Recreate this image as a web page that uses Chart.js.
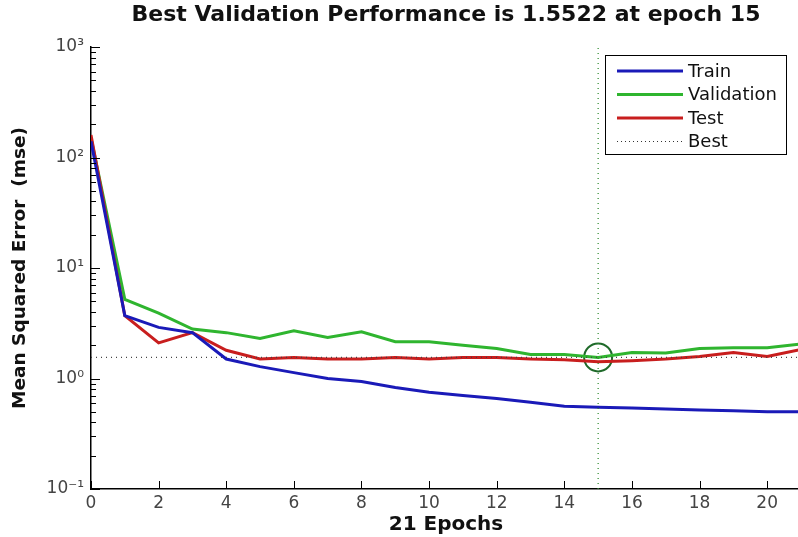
<!DOCTYPE html>
<html>
<head>
<meta charset="utf-8">
<script src="https://cdn.jsdelivr.net/npm/chart.js@4/dist/chart.umd.min.js"></script>
<style>
  html, body { margin: 0; padding: 0; background: #fff; overflow: hidden; }
  #wrap { width: 798px; height: 537px; overflow: hidden; }
</style>
</head>
<body>
<div id="wrap"><canvas id="chart" width="804" height="537"></canvas></div>
<script>
// epochs and mse per split
const epochs = [0, 1, 2, 3, 4, 5, 6, 7, 8, 9, 10, 11, 12, 13, 14, 15, 16, 17, 18, 19, 20, 21];
const train = [140, 3.7, 2.9, 2.6, 1.5, 1.28, 1.13, 1.0, 0.94, 0.83, 0.75, 0.70, 0.66, 0.61, 0.56, 0.55, 0.54, 0.53, 0.52, 0.51, 0.50, 0.50];
const validation = [150, 5.2, 3.9, 2.8, 2.6, 2.3, 2.7, 2.35, 2.65, 2.15, 2.15, 2.0, 1.87, 1.65, 1.65, 1.5522, 1.72, 1.7, 1.87, 1.9, 1.9, 2.05];
const test = [160, 3.7, 2.1, 2.6, 1.8, 1.5, 1.55, 1.5, 1.5, 1.55, 1.5, 1.55, 1.55, 1.5, 1.48, 1.42, 1.45, 1.5, 1.58, 1.72, 1.58, 1.83];
const bestEpoch = 15;
const bestValue = 1.5522;
const yTickLabels = { 1000: "10³", 100: "10²", 10: "10¹", 1: "10⁰", 0.1: "10⁻¹" };
const titleText = "Best Validation Performance is 1.5522 at epoch 15";

const toPoints = arr => arr.map((v, i) => ({ x: epochs[i], y: v }));

const FONT = "'DejaVu Sans', 'Liberation Sans', Arial, sans-serif";

// matlab style title, inward ticks + legend box
const matlabBits = {
    id: "matlabBits",
    afterDraw(chart) {
        const { ctx, chartArea: a, scales: { x, y } } = chart;
        ctx.save();

        // title centred over the axes
        ctx.font = "bold 22px " + FONT;
        ctx.fillStyle = "#111";
        ctx.textAlign = "center";
        ctx.textBaseline = "middle";
        ctx.fillText(titleText, (a.left + a.right) / 2, 15);
        ctx.textAlign = "left";

        ctx.strokeStyle = "#000";
        ctx.lineWidth = 1;
        // y ticks (log: majors and minors)
        for (let p = -1; p <= 3; p++) {
            for (let m = 1; m <= 9; m++) {
                const v = m * Math.pow(10, p);
                if (v > 1000) break;
                const py = Math.round(y.getPixelForValue(v)) + 0.5;
                const len = m === 1 ? 9 : 5;
                ctx.beginPath();
                ctx.moveTo(a.left, py);
                ctx.lineTo(a.left + len, py);
                ctx.stroke();
            }
        }
        // x ticks
        for (let t = 0; t <= 20; t += 2) {
            const px = Math.round(x.getPixelForValue(t)) + 0.5;
            ctx.beginPath();
            ctx.moveTo(px, a.bottom);
            ctx.lineTo(px, a.bottom - 8);
            ctx.stroke();
        }

        // legend
        const bx = 605, by = 55, bw = 181, bh = 99;
        ctx.fillStyle = "#fff";
        ctx.fillRect(bx, by, bw, bh);
        ctx.strokeStyle = "#000";
        ctx.strokeRect(bx + 0.5, by + 0.5, bw, bh);
        const items = [
            { label: "Train", color: "#1a1ab8", dash: [], w: 3 },
            { label: "Validation", color: "#2fb52f", dash: [], w: 3 },
            { label: "Test", color: "#c81e1e", dash: [], w: 3 },
            { label: "Best", color: "#333", dash: [1, 3], w: 1.2 }
        ];
        ctx.font = "18px " + FONT;
        ctx.textBaseline = "middle";
        items.forEach((it, i) => {
            const ly = 71 + i * 23.5;
            ctx.beginPath();
            ctx.setLineDash(it.dash);
            ctx.strokeStyle = it.color;
            ctx.lineWidth = it.w;
            ctx.moveTo(617, ly);
            ctx.lineTo(683, ly);
            ctx.stroke();
            ctx.setLineDash([]);
            ctx.fillStyle = "#111";
            ctx.fillText(it.label, 688, ly + 1);
        });
        ctx.restore();
    }
};

const ctx = document.getElementById("chart").getContext("2d");

const chart = new Chart(ctx, {
    type: "line",
    data: {
        datasets: [
            {
                label: "Best",
                data: [{ x: 0, y: bestValue }, { x: 21, y: bestValue }],
                borderColor: "#444",
                borderWidth: 1.2,
                borderDash: [1, 4],
                pointRadius: 0
            },
            {
                label: "BestEpoch",
                data: [{ x: bestEpoch, y: 0.1 }, { x: bestEpoch, y: 1000 }],
                borderColor: "#2a8a2a",
                borderWidth: 1.2,
                borderDash: [1, 4],
                pointRadius: 0
            },
            {
                label: "Train",
                data: toPoints(train),
                borderColor: "#1a1ab8",
                borderWidth: 3,
                pointRadius: 0,
                tension: 0
            },
            {
                label: "Test",
                data: toPoints(test),
                borderColor: "#c81e1e",
                borderWidth: 3,
                pointRadius: 0,
                tension: 0
            },
            {
                label: "Validation",
                data: toPoints(validation),
                borderColor: "#2fb52f",
                borderWidth: 3,
                pointRadius: 0,
                tension: 0
            },
            {
                label: "BestMark",
                data: [{ x: bestEpoch, y: bestValue }],
                showLine: false,
                pointRadius: 14,
                pointStyle: "circle",
                pointBorderColor: "#1f6a2a",
                pointBorderWidth: 2,
                pointBackgroundColor: "rgba(0,0,0,0)"
            }
        ]
    },
    options: {
        responsive: false,
        animation: false,
        layout: { autoPadding: false, padding: { top: 47, right: 3, left: 0, bottom: 0 } },
        plugins: {
            legend: { display: false },
            tooltip: { enabled: false },
            title: { display: false }
        },
        scales: {
            x: {
                type: "linear",
                min: 0,
                max: 21,
                afterBuildTicks: s => { s.ticks = s.ticks.filter(t => t.value % 2 === 0 && t.value <= 20); },
                afterFit: s => { s.height = 48; },
                ticks: { stepSize: 2, color: "#444", font: { family: FONT, size: 17 }, padding: 0, maxRotation: 0 },
                grid: { display: false, tickLength: 4 },
                border: { color: "#000", width: 1.5 },
                title: { display: true, text: "21 Epochs", color: "#111", font: { family: FONT, size: 20, weight: "bold" }, padding: { top: 0, bottom: 0 } }
            },
            y: {
                type: "logarithmic",
                min: 0.1,
                max: 1000,
                afterBuildTicks: s => { s.ticks = [0.1, 1, 10, 100, 1000].map(v => ({ value: v })); },
                afterFit: s => { s.width = 91; },
                ticks: {
                    color: "#444",
                    font: { family: FONT, size: 17 },
                    padding: 7,
                    callback: v => yTickLabels[v] || ""
                },
                grid: { display: false, tickLength: 0 },
                border: { color: "#000", width: 1.5 },
                title: { display: true, text: "Mean Squared Error  (mse)", color: "#111", font: { family: FONT, size: 18.5, weight: "bold" }, padding: { top: 9, bottom: 9 } }
            }
        }
    },
    plugins: [matlabBits]
});
</script>
</body>
</html>
